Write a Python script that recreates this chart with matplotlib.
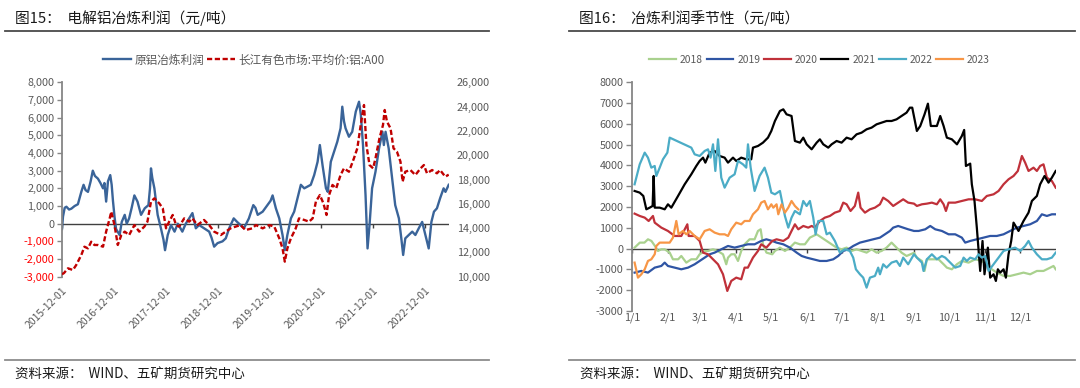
import matplotlib
matplotlib.use('Agg')
import matplotlib.pyplot as plt
import pandas as pd
from matplotlib.lines import Line2D

plt.rcParams['font.family'] = ['Noto Sans CJK SC', 'DejaVu Sans']

# ---------------- Left chart data ----------------
profit_dates = ['2015-12-01', '2015-12-08', '2015-12-20', '2016-01-01', '2016-01-20', '2016-02-05', '2016-02-28',
                '2016-03-22', '2016-04-15', '2016-05-01', '2016-05-15', '2016-06-01', '2016-06-20', '2016-07-05',
                '2016-07-20', '2016-08-10', '2016-08-28', '2016-09-15', '2016-09-25', '2016-10-07', '2016-10-20',
                '2016-11-05', '2016-11-15', '2016-11-24', '2016-12-05', '2016-12-16', '2017-01-10', '2017-01-25',
                '2017-02-15', '2017-03-01', '2017-03-18', '2017-04-05', '2017-04-24', '2017-05-16', '2017-06-10',
                '2017-07-06', '2017-08-01', '2017-08-12', '2017-08-19', '2017-08-28', '2017-09-12', '2017-10-05',
                '2017-10-28', '2017-11-15', '2017-11-26', '2017-12-15', '2018-01-07', '2018-02-01', '2018-02-24',
                '2018-03-28', '2018-04-21', '2018-05-15', '2018-06-07', '2018-07-01', '2018-07-24', '2018-08-28',
                '2018-10-03', '2018-10-20', '2018-11-07', '2018-12-01', '2019-01-05', '2019-01-28', '2019-02-21',
                '2019-03-25', '2019-04-18', '2019-05-12', '2019-06-05', '2019-07-10', '2019-08-10', '2019-08-25',
                '2019-09-10', '2019-10-15', '2019-11-18', '2019-12-10', '2019-12-24', '2020-01-16', '2020-02-09',
                '2020-03-03', '2020-03-19', '2020-04-06', '2020-05-01', '2020-05-24', '2020-06-16', '2020-07-10',
                '2020-08-03', '2020-08-26', '2020-09-18', '2020-10-12', '2020-11-05', '2020-11-21', '2020-12-10',
                '2021-01-03', '2021-01-16', '2021-02-06', '2021-03-01', '2021-03-24', '2021-04-16', '2021-04-28',
                '2021-05-10', '2021-05-21', '2021-06-14', '2021-07-07', '2021-08-01', '2021-08-24', '2021-09-06',
                '2021-09-21', '2021-10-09', '2021-10-23', '2021-11-06', '2021-11-24', '2021-12-18', '2022-01-12',
                '2022-02-05', '2022-02-15', '2022-02-27', '2022-03-21', '2022-04-14', '2022-05-06', '2022-06-01',
                '2022-06-18', '2022-07-01', '2022-07-16', '2022-08-10', '2022-09-03', '2022-09-25', '2022-10-19',
                '2022-11-12', '2022-12-05', '2022-12-28', '2023-01-16', '2023-02-03', '2023-02-24', '2023-03-18',
                '2023-04-12', '2023-04-25', '2023-05-18']
profit_values = [-300, 400, 900, 960, 800, 850, 1000,
                 1100, 1800, 2200, 1900, 1800, 2400, 3000,
                 2700, 2550, 2300, 2000, 2300, 1250, 2400,
                 2750, 2200, 1300, 400, -300, -640, 100,
                 500, 0, 300, 900, 1600, 1250, 500,
                 870, 1050, 2000, 3130, 2600, 2000, 500,
                 -260, -900, -1500, -640, -75, -450, 0,
                 -450, 0, 300, 600, -260, -75, -260,
                 -450, -800, -1300, -1100, -1000, -830, -260,
                 300, 100, -75, -260, 300, 1050, 900,
                 500, 680, 1050, 1300, 1600, 870, 300,
                 -640, -1500, -640, 300, 680, 1430, 2200,
                 2000, 2100, 2200, 2750, 3500, 4450, 3300,
                 2000, 1800, 3500, 4080, 4640, 5400, 6620,
                 5800, 5400, 4920, 5200, 6340, 6900, 6150,
                 4450, 1600, -1400, -75, 2000, 2940, 4260,
                 5200, 4450, 5200, 4260, 2570, 1050, 300,
                 -830, -1770, -830, -640, -450, -640, -260,
                 100, -640, -1400, 100, 680, 870, 1430,
                 2000, 1800, 2200]

price_dates = ['2015-12-01', '2015-12-15', '2016-01-12', '2016-02-16', '2016-03-10', '2016-04-15', '2016-05-07',
               '2016-06-01', '2016-06-24', '2016-07-16', '2016-08-10', '2016-09-15', '2016-10-07', '2016-11-01',
               '2016-11-12', '2016-12-05', '2016-12-28', '2017-01-22', '2017-02-15', '2017-03-18', '2017-04-24',
               '2017-05-28', '2017-07-03', '2017-07-25', '2017-08-19', '2017-09-12', '2017-10-16', '2017-11-10',
               '2017-12-03', '2017-12-25', '2018-01-19', '2018-02-12', '2018-03-05', '2018-04-10', '2018-05-15',
               '2018-06-07', '2018-07-12', '2018-08-28', '2018-10-03', '2018-11-07', '2018-12-24', '2019-01-28',
               '2019-03-03', '2019-04-07', '2019-05-12', '2019-06-16', '2019-08-03', '2019-08-28', '2019-10-15',
               '2019-12-01', '2020-01-05', '2020-02-09', '2020-03-03', '2020-03-19', '2020-04-06', '2020-05-01',
               '2020-06-04', '2020-06-27', '2020-08-03', '2020-09-06', '2020-10-01', '2020-10-24', '2020-11-21',
               '2020-12-16', '2021-01-07', '2021-01-25', '2021-02-18', '2021-03-16', '2021-04-16', '2021-05-10',
               '2021-06-14', '2021-07-19', '2021-08-12', '2021-09-05', '2021-09-28', '2021-10-15', '2021-11-06',
               '2021-12-01', '2021-12-18', '2022-01-15', '2022-02-09', '2022-02-21', '2022-03-09', '2022-04-03',
               '2022-04-24', '2022-05-18', '2022-06-12', '2022-06-27', '2022-07-16', '2022-08-21', '2022-09-25',
               '2022-11-01', '2022-11-24', '2022-12-16', '2023-01-21', '2023-02-24', '2023-03-18', '2023-04-24',
               '2023-05-18']
price_values = [10200, 10300, 10690, 10550, 10960, 11780, 12470,
                12330, 12880, 12610, 12610, 12470, 13710, 14800,
                15350, 14250, 12610, 13430, 13710, 13430, 14250,
                13710, 14120, 14530, 16180, 16450, 16040, 15630,
                13980, 14530, 15080, 14250, 14120, 14800, 14530,
                14800, 14250, 14670, 14250, 13710, 13430, 13710,
                13980, 14120, 14250, 13840, 13980, 14250, 13980,
                14250, 14120, 13160, 12330, 11240, 12330, 13160,
                13980, 14800, 14670, 14530, 14800, 16180, 16720,
                16040, 15080, 16720, 17550, 17270, 18370, 18920,
                18640, 19740, 20570, 22490, 24130, 20840, 19190,
                18920, 19740, 21390, 22490, 23720, 22760, 22210,
                20570, 20290, 19470, 17820, 18640, 18780, 18370,
                18920, 19190, 18510, 18780, 18510, 18780, 18230,
                18400]

left_xticks = ['2015-12-01', '2016-12-01', '2017-12-01', '2018-12-01', '2019-12-01',
               '2020-12-01', '2021-12-01', '2022-12-01']
left_yticks = list(range(-3000, 8001, 1000))
right_yticks = list(range(10000, 26001, 2000))
left_labels = ['原铝冶炼利润', '长江有色市场:平均价:铝:A00']

# ---------------- Right chart data (day of year, profit) ----------------
doy_2018 = [2.5, 7, 11, 14, 17, 20, 22.6, 25.5, 28.4, 32.7, 35.5, 40, 42.7, 47, 51.3, 55.6, 58.5, 62.8, 65.7, 70,
            74, 78.6, 81.4, 82.9, 85.7, 88.6, 91.5, 94.3, 97.2, 101.5, 105.8, 108.7, 111, 113, 116, 121,
            123.3, 127.6, 131.9, 136.2, 140.5, 144.8, 149.1, 153.4, 159.2, 163.5, 167.8, 172.1, 176.4, 180.7,
            185, 189.3, 193.6, 197.9, 202.2, 206.5, 210.8, 215.1, 219.4, 223.7, 228, 232.3, 236.6, 243,
            245.5, 249.8, 252.1, 254.1, 258.4, 264.1, 268.5, 271.3, 275.6, 279.9, 284.2, 290, 295.7, 301.4,
            305.7, 310, 314.3, 320.1, 325.8, 331.6, 337.3, 343, 348.8, 354.5, 360.3, 363.1, 365]
val_2018 = [48, 289, 289, 449, 369, 128, -112, -32, -32, -192, -513, -513, -353, -673, -513, -513, -272, -112, -112, -32,
            -112, -272, -753, -433, -272, -272, -593, -112, 208, 449, 449, 850, 930, 208, -192, -272,
            -112, 48, -112, 48, 289, 208, 208, 529, 689, 529, 369, 208, 48, -32,
            48, -112, -32, -112, -192, -32, -192, -112, 48, 289, 48, -192, -353, -200,
            -433, -593, -1074, -513, -513, -513, -753, -914, -994, -753, -593, -673, -513, -593,
            -753, -994, -1154, -1314, -1314, -1234, -1154, -1234, -1074, -1074, -914, -834, -994]

doy_2019 = [2.5, 8.3, 14, 19.8, 25.5, 28.4, 31.2, 37, 42.7, 48.5, 54.2, 58.5, 62.8, 67.1, 71.4, 77.1, 82.9, 88.6,
            94.3, 100, 105.8, 111.5, 115.9, 121,
            124.7, 130.5, 136.2, 142, 146.3, 150.6, 156.3, 162, 167.8, 173.5, 177.8, 182.1, 186.4, 190.7, 196.5,
            202.2, 207.9, 213.7, 218, 222.3, 225.1, 229.4, 233.7, 238, 243,
            247, 252.7, 257, 261.3, 267, 272.8, 278.5, 284.2, 287.1, 291.4, 297.1, 302.9, 308.6, 314.3, 320.1,
            325.8, 331.6, 337.3, 343, 348.8, 353.1, 357.4, 361.7, 365]
val_2019 = [-1154, -1074, -1154, -914, -834, -673, -834, -914, -994, -914, -753, -593, -433, -272, -192, -32, 128, 48,
            128, 208, 208, 369, 449, 369,
            289, 208, 48, -192, -353, -433, -513, -593, -593, -513, -353, -112, -32, 128, 289,
            369, 449, 529, 689, 850, 1010, 1090, 1010, 930, 850,
            850, 930, 1090, 930, 850, 689, 689, 529, 289, 369, 449, 529, 609, 609, 689,
            850, 1010, 1090, 1170, 1330, 1651, 1571, 1651, 1651]

doy_2020 = [2.5, 6.9, 11.2, 14.6, 18.3, 19.8, 25.5, 31.2, 37, 42.7, 47.9, 49, 54.2, 58.5, 61.4, 65.7, 70, 74.3,
            78.6, 82.3, 85.7, 90, 94.3, 97.2, 100, 104.4, 108.7, 111.5, 115.9, 121,
            124.7, 130.5, 134.8, 137.6, 140.5, 143.4, 147.7, 152, 154.9, 157.7, 162, 166.3, 170.6, 174.9, 179.2,
            182.1, 185, 188.4, 192.1, 195, 197, 200.8, 205.1, 209.4, 213.7, 216.5, 220.8, 225.1, 229.4, 233.7,
            238, 243,
            245.5, 249.8, 254.1, 258.4, 262.7, 265.6, 268.5, 270.5, 272.8, 278.5, 284.2, 290, 295.7, 301.4,
            305.7, 311.5, 315.8, 320.1, 324.4, 328.7, 332.4, 335.9, 338.7, 341.6, 345.9, 348.8, 351.6, 354.5,
            357.4, 361.7, 365]
val_2020 = [1683, 1571, 1491, 1330, 1571, 1250, 1010, 850, 609, 609, 1170, 609, 609, 369, -192, -272, -513, -753,
            -1234, -2036, -1555, -1395, -1475, -914, -914, -433, -112, 208, 48, 369,
            449, 369, 529, 850, 1170, 930, 1090, 1010, 1090, 1010, 1330, 1491, 1571, 1731, 1811,
            2212, 2132, 1811, 2052, 2693, 1971, 1731, 1891, 1971, 2132, 2453, 2292, 2052, 2212, 2372,
            2212, 2164,
            2052, 2132, 2164, 2212, 2132, 2372, 2132, 1811, 2212, 2212, 2292, 2372, 2372, 2292,
            2533, 2613, 2773, 3094, 3334, 3495, 3735, 4456, 4136, 3735, 3895, 3735, 3975, 4055,
            3414, 3254, 2933]

doy_2021 = [2.5, 6.9, 10, 12.6, 15.5, 18, 18.9, 19.8, 24.1, 28.4, 31.2, 34.1, 39.9, 45.6, 51.3, 55.6, 58.5, 61.4,
            63.4, 67.1, 71.4, 75.7, 80, 82.9, 87.2, 90, 94.3, 98.6, 102.9, 104.4, 108.7, 113, 117.3, 120.2,
            123.3, 127.6, 130.5, 133.3, 137.6, 140.5, 144.8, 147.7, 150.6, 154.9, 159.2, 162, 164.9, 169.2,
            172.1, 176.4, 180.7, 185, 189.3, 193.6, 197.9, 202.2, 206.5, 210.8, 215.1, 219.4, 223.7, 228,
            232.3, 236.6, 239.5, 241.5,
            245.5, 248.4, 252.1, 255, 257.5, 262.7, 265.6, 268.5, 271.3, 275.6, 280, 284.2, 286.2, 287.7,
            291.4, 292.8, 295.1, 297.1, 300, 302, 303.7, 306.6, 308.6, 311.5, 313.5, 315.2, 317.2, 320.1,
            322.1, 324.4, 326.7, 328.7, 333, 337.3, 341.6, 344.5, 348.8, 351.6, 355.4, 358.8, 361.7, 365]
val_2021 = [2773, 2693, 2533, 1891, 1971, 2052, 3495, 1971, 1971, 1891, 2132, 1971, 2533, 3094, 3575, 3975, 4216, 4376,
            4136, 4617, 4697, 4456, 4376, 4136, 4376, 4216, 4376, 4296, 4296, 4857, 4937, 5097, 5338, 5659,
            6139, 6620, 6700, 6460, 6380, 5178, 5097, 5338, 5017, 4777, 5097, 5258, 5017, 4857,
            5017, 5178, 5097, 5338, 5258, 5498, 5578, 5739, 5819, 5979, 6059, 6139, 6139, 6219,
            6380, 6540, 6780, 6780,
            5659, 5899, 6460, 6973, 5899, 5899, 6380, 5899, 5338, 5258, 5017, 5418, 5707, 3975,
            4088, 3094, 2292, 1010, -1074, 369, -1234, 48, -1395, -1234, -1555, -994, -1154, -994,
            -1395, -272, 369, 1250, 850, 1330, 1731, 2292, 2533, 3094, 3495, 3174, 3414, 3735]

doy_2022 = [2.5, 6.9, 11.2, 14, 16.9, 19.8, 21.2, 24.1, 26.9, 30.7, 32.7, 51.3, 54.2, 58.5, 62.8, 65.7, 67.9, 70,
            72, 74.3, 77.1, 80, 84.3, 88.6, 91.5, 95.8, 98.6, 100.1, 102.4, 105.8, 110.1, 114.4, 117.3, 120.2,
            123.3, 127.6, 131.9, 134.8, 137.6, 140.5, 144.8, 147.7, 150.6, 153.4, 156.3, 158.3, 160.6, 164.9,
            167.8, 170.6, 174.9, 179.2, 183.5, 187.8, 190.7, 193, 196.5, 199.3, 202.2, 205.1, 209.4, 212.2,
            213.7, 216.5, 219.4, 223.7, 228, 230.9, 233.7, 238, 243,
            245.5, 249.8, 251.2, 254.1, 258.4, 262.7, 267, 269.9, 274.2, 278.5, 282.8, 285.7, 288.5, 291.4,
            295.7, 298.6, 301.4, 304.3, 307.2, 311.5, 315.8, 320.1, 324.4, 330.1, 334.4, 338.7, 341.6, 344.5,
            348.8, 353.1, 357.4, 361.7, 365]
val_2022 = [3094, 4055, 4617, 4376, 3895, 3975, 3495, 3895, 4296, 4617, 5338, 4857, 4536, 4456, 4697, 4777, 4376, 5017,
            3735, 5258, 3414, 2933, 3414, 3575, 4216, 4055, 3895, 5017, 3895, 2773, 3495, 3895, 3414, 2693,
            2613, 2773, 1571, 1010, 1491, 1811, 1651, 2292, 2052, 2292, 1491, 689, 1330, 1330,
            689, 770, 369, -192, -32, -112, -433, -994, -1234, -1395, -1876, -1395, -1314, -914,
            -1234, -753, -914, -673, -593, -834, -433, -753, -272,
            -433, -673, -1074, -513, -272, -513, -353, -433, -673, -914, -834, -433, -593, -433,
            -513, -272, -433, -353, -1074, -753, -433, -112, -32, 48, -112, 128, 369, 48,
            -272, -513, -513, -433, -192]

doy_2023 = [2.5, 5.4, 8.3, 11.2, 14, 16.9, 19.8, 21.2, 24.1, 28.4, 32.7, 35.5, 38.4, 40.4, 44.1, 47, 49.9, 54.2,
            58.5, 62.8, 67.1, 71.4, 75.7, 80, 82.9, 85.7, 90, 94.3, 97.2, 101.5, 104.4, 108.7, 111.5, 114.4,
            117.3, 120.2, 121.9, 124.7, 126.2, 129, 131.9, 134.8, 137.6, 140.5, 143.4]
val_2023 = [-673, -1395, -1234, -994, -593, -513, -272, 128, 289, 289, 289, 529, 1330, 689, 850, 689, 850, 609,
            449, 850, 930, 770, 689, 689, 609, 930, 1250, 1170, 1330, 1330, 1651, 1891, 2212, 2292,
            1891, 2132, 1971, 2132, 1651, 2132, 1731, 1971, 2292, 2052, 1891]

season_labels = ['2018', '2019', '2020', '2021', '2022', '2023']
season_colors = ['#A9D18E', '#2F55A4', '#C0313A', '#000000', '#4BACC6', '#F79646']
month_ticks = [0, 31, 59, 90, 120, 151, 181, 212, 243, 273, 304, 334]
month_labels = ['1/1', '2/1', '3/1', '4/1', '5/1', '6/1', '7/1', '8/1', '9/1', '10/1', '11/1', '12/1']
season_yticks = list(range(-3000, 8001, 1000))

# ---------------- Figure ----------------
W, H = 1080, 388
fig = plt.figure(figsize=(W / 100, H / 100), dpi=100)


def fx(px):
    return px / W


def fy(py):
    return 1 - py / H


TICK_COLOR = '#595959'
SPINE_COLOR = '#868686'
FS = 7.8

# ---------- Left chart ----------
ax1 = fig.add_axes([fx(62), fy(276.7), (449 - 62) / W, (276.7 - 82.3) / H])
ax1.set_ylim(-3000, 8000)
ax1.set_xlim(pd.Timestamp('2015-12-01'), pd.Timestamp('2023-05-20'))
ax1.axhline(0, color='#404040', lw=1.0, zorder=1)
l1, = ax1.plot(pd.to_datetime(profit_dates), profit_values, color='#3A6499', lw=1.7, zorder=2)
ax1.plot(pd.to_datetime(left_xticks), [0] * len(left_xticks), ls='none', marker=3, ms=3,
         mew=1.0, color='#404040', zorder=1)

ax1b = ax1.twinx()
ax1b.set_ylim(10000, 26000)
l2, = ax1b.plot(pd.to_datetime(price_dates), price_values, color='#C00000', lw=1.7,
                ls=(0, (2.2, 1.1)))

for s in ['top', 'right', 'bottom']:
    ax1.spines[s].set_visible(False)
for s in ax1b.spines.values():
    s.set_visible(False)
ax1.spines['left'].set_color(SPINE_COLOR)
ax1.spines['left'].set_linewidth(1.3)

ax1.set_yticks(left_yticks)
ax1.set_yticklabels([f'{v:,}' for v in left_yticks])
for lab, v in zip(ax1.get_yticklabels(), left_yticks):
    lab.set_color('#FF0000' if v < 0 else TICK_COLOR)
ax1.tick_params(axis='y', direction='out', length=3.5, width=1, color=SPINE_COLOR,
                labelsize=FS, pad=2)

ax1.set_xticks(pd.to_datetime(left_xticks))
ax1.set_xticklabels(left_xticks, rotation=45, ha='right', rotation_mode='anchor')
ax1.tick_params(axis='x', length=0, labelsize=7.5, labelcolor=TICK_COLOR, pad=6)

ax1b.set_yticks(right_yticks)
ax1b.set_yticklabels([f'{v:,}' for v in right_yticks])
ax1b.tick_params(axis='y', length=0, labelsize=FS, labelcolor=TICK_COLOR, pad=5.5)

ax1.legend([l1, l2], left_labels, loc='center', bbox_to_anchor=(fx(244), fy(60)),
           bbox_transform=fig.transFigure, ncol=2, frameon=False, fontsize=8.4,
           handlelength=2.4, handletextpad=0.3, columnspacing=0.2, labelcolor=TICK_COLOR)

# ---------- Right chart ----------
ax2 = fig.add_axes([fx(631.7), fy(311), (1055.7 - 631.7) / W, (311 - 82.3) / H])
ax2.set_xlim(0, 365)
ax2.set_ylim(-3000, 8000)
ax2.axhline(0, color='#404040', lw=1.0, zorder=1)
ax2.plot(month_ticks, [0] * len(month_ticks), ls='none', marker=3, ms=3, mew=1.0,
         color='#404040', zorder=1)

series_x = [doy_2018, doy_2019, doy_2020, doy_2021, doy_2022, doy_2023]
series_y = [val_2018, val_2019, val_2020, val_2021, val_2022, val_2023]
handles = []
for xs, ys, lab, col in zip(series_x, series_y, season_labels, season_colors):
    h, = ax2.plot(xs, ys, color=col, lw=1.6, label=lab, zorder=2)
    handles.append(h)

for s in ['top', 'right', 'bottom']:
    ax2.spines[s].set_visible(False)
ax2.spines['left'].set_color(SPINE_COLOR)
ax2.spines['left'].set_linewidth(1.3)
ax2.set_yticks(season_yticks)
ax2.set_yticklabels([str(v) for v in season_yticks])
ax2.tick_params(axis='y', direction='out', length=4, width=1, color=SPINE_COLOR,
                labelsize=FS, labelcolor=TICK_COLOR, pad=2)
ax2.set_xticks(month_ticks)
ax2.set_xticklabels(month_labels)
ax2.tick_params(axis='x', length=0, labelsize=FS, labelcolor=TICK_COLOR, pad=1)

ax2.legend(handles, season_labels, loc='center', bbox_to_anchor=(fx(819.5), fy(60)),
           bbox_transform=fig.transFigure, ncol=6, frameon=False, fontsize=7.4,
           handlelength=2.6, handletextpad=0.4, columnspacing=0.35, labelcolor=TICK_COLOR)

# ---------- Titles, rules, sources ----------
fig.text(fx(15), fy(17.8), '图15：  电解铝冶炼利润（元/吨）', fontsize=10.6, va='center', ha='left',
         color='#1a1a1a')
fig.text(fx(579), fy(17.8), '图16：  冶炼利润季节性（元/吨）', fontsize=10.6, va='center', ha='left',
         color='#1a1a1a')
fig.add_artist(Line2D([fx(5), fx(489)], [fy(31), fy(31)], color='#4a4a4a', lw=1.3))
fig.add_artist(Line2D([fx(569), fx(1075)], [fy(31), fy(31)], color='#4a4a4a', lw=1.3))
fig.add_artist(Line2D([fx(5), fx(489)], [fy(360), fy(360)], color='#8c8c8c', lw=1.3))
fig.add_artist(Line2D([fx(569), fx(1075)], [fy(360), fy(360)], color='#8c8c8c', lw=1.3))
fig.text(fx(15), fy(375), '资料来源：  WIND、五矿期货研究中心', fontsize=9.7, va='center', ha='left',
         color='#1a1a1a')
fig.text(fx(580), fy(375), '资料来源：  WIND、五矿期货研究中心', fontsize=9.7, va='center', ha='left',
         color='#1a1a1a')

fig.savefig('out.png', dpi=100)
